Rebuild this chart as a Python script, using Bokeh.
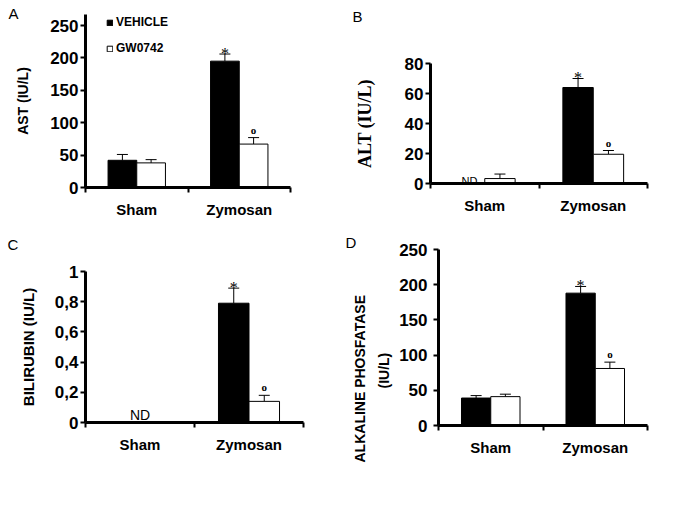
from bokeh.plotting import figure
from bokeh.models import (Range1d, FixedTicker, Whisker, TeeHead, ColumnDataSource,
                          Label, LabelSet, Legend, LegendItem, Title)
from bokeh.layouts import column, row
from bokeh.embed import file_html
from bokeh.resources import INLINE

# ---------------- data ----------------
groups = ["Sham", "Zymosan"]
series = ["VEHICLE", "GW0742"]

ast_vehicle = [42, 195]
ast_vehicle_err = [9, 11]
ast_gw = [38, 67]
ast_gw_err = [5, 10]

alt_vehicle = [None, 64]          # ND for Sham vehicle
alt_vehicle_err = [None, 6]
alt_gw = [3.3, 19.5]
alt_gw_err = [3, 2.5]

bili_vehicle = [None, 0.79]       # ND for Sham
bili_vehicle_err = [None, 0.10]
bili_gw = [None, 0.14]
bili_gw_err = [None, 0.04]

alp_vehicle = [39, 188]
alp_vehicle_err = [3.5, 9.5]
alp_gw = [41, 81]
alp_gw_err = [3.5, 9]

sig_vehicle = ["", "*"]
sig_gw = ["", "o"]

ast_ticks = [0, 50, 100, 150, 200, 250]
alt_ticks = [0, 20, 40, 60, 80]
bili_ticks = [0, 0.2, 0.4, 0.6, 0.8, 1]
bili_tick_labels = ["0", "0,2", "0,4", "0,6", "0,8", "1"]
alp_ticks = [0, 50, 100, 150, 200, 250]

FONT = "Liberation Sans"
SERIF = "Liberation Serif"
BAR_W = 0.28
OFF = 0.14


def panel(width, height, borders, yend, ticks, tick_labels, vals, letter, letter_pos,
          title=None, title_font=FONT, title_size="14px", title_standoff=16,
          legend=False, nd_size="11px", nd_offset=4, tick_standoff=2, spacer=None):
    L, R, T, B = borders
    p = figure(width=width, height=height, output_backend="svg", toolbar_location=None,
               x_range=Range1d(0, 2), y_range=Range1d(0, yend),
               min_border_left=L, min_border_right=R, min_border_top=T, min_border_bottom=B)
    if "frame_align" in p.properties():
        p.frame_align = False
    p.outline_line_color = None
    p.xgrid.visible = False
    p.ygrid.visible = False
    p.background_fill_color = "white"
    p.border_fill_color = "white"

    # panel letter as title (optionally lifted by an empty spacer title)
    if spacer is not None:
        p.add_layout(Title(text=" ", standoff=spacer, text_font=FONT,
                           text_font_size="15px"), "above")
    p.title.text = letter
    p.title.align = "left"
    p.title.offset = letter_pos[0]
    p.title.standoff = letter_pos[1]
    p.title.text_font = FONT
    p.title.text_font_style = "normal"
    p.title.text_font_size = "15px"
    p.title.text_color = "black"

    veh, veh_err, gw, gw_err = vals
    renderers = []
    for k, (v, e, fill) in enumerate([(veh, veh_err, "black"), (gw, gw_err, "white")]):
        xs, tops, ups = [], [], []
        for i, g in enumerate(groups):
            if v[i] is None:
                continue
            xs.append(i + 0.5 + (-OFF if k == 0 else OFF))
            tops.append(v[i])
            ups.append(v[i] + e[i])
        src = ColumnDataSource(dict(x=xs, top=tops, upper=ups))
        r = p.vbar(x="x", top="top", width=BAR_W, source=src, fill_color=fill,
                   line_color="black", line_width=1)
        renderers.append(r)
        w = Whisker(base="x", lower="top", upper="upper", source=src,
                    line_color="black", line_width=1, lower_head=None,
                    upper_head=TeeHead(size=11, line_color="black", line_width=1))
        p.add_layout(w)

    # significance markers
    for k, (v, e, sig, size, dy) in enumerate([(veh, veh_err, sig_vehicle, "16px", 1),
                                               (gw, gw_err, sig_gw, "11px", 8)]):
        xs, ys, ts = [], [], []
        for i in range(len(groups)):
            if v[i] is None or not sig[i]:
                continue
            xs.append(i + 0.5 + (-OFF if k == 0 else OFF))
            ys.append(v[i] + e[i])
            ts.append(sig[i])
        src = ColumnDataSource(dict(x=xs, y=ys, t=ts))
        p.add_layout(LabelSet(x="x", y="y", text="t", source=src, text_align="center",
                              text_baseline="middle", y_offset=dy, text_font=FONT,
                              text_font_size=size,
                              text_font_style="bold" if k == 1 else "normal",
                              text_color="black"))

    # ND labels
    for i in range(len(groups)):
        if veh[i] is None and gw[i] is None:
            p.add_layout(Label(x=i + 0.5, y=0, y_offset=nd_offset, text="ND",
                               text_align="center", text_baseline="alphabetic",
                               text_font=FONT, text_font_size=nd_size, text_color="black"))
        elif veh[i] is None:
            p.add_layout(Label(x=i + 0.5 - OFF, y=0, y_offset=nd_offset, text="ND",
                               text_align="center", text_baseline="alphabetic",
                               text_font=FONT, text_font_size=nd_size, text_color="black"))

    # axes
    ya = p.yaxis[0]
    ya.ticker = FixedTicker(ticks=ticks)
    if tick_labels:
        ya.major_label_overrides = {t: s for t, s in zip(ticks, tick_labels)}
    ya.axis_line_width = 3
    ya.axis_line_color = "black"
    ya.major_tick_line_width = 2
    ya.major_tick_line_color = "black"
    ya.major_tick_out = 5
    ya.major_tick_in = 0
    ya.minor_tick_line_color = None
    ya.major_label_standoff = tick_standoff
    ya.major_label_text_font = FONT
    ya.major_label_text_font_style = "bold"
    ya.major_label_text_font_size = "17px"
    ya.major_label_text_color = "black"
    if title:
        ya.axis_label = title
        ya.axis_label_text_font = title_font
        ya.axis_label_text_font_style = "bold"
        ya.axis_label_text_font_size = title_size
        ya.axis_label_standoff = title_standoff
        ya.axis_label_text_color = "black"

    xa = p.xaxis[0]
    xa.ticker = FixedTicker(ticks=[0.5, 1.5], minor_ticks=[0, 1, 2])
    xa.major_label_overrides = {0.5: groups[0], 1.5: groups[1]}
    xa.axis_line_width = 3
    xa.axis_line_color = "black"
    xa.major_tick_line_color = None
    xa.major_tick_out = 0
    xa.major_tick_in = 0
    xa.minor_tick_line_width = 2
    xa.minor_tick_line_color = "black"
    xa.minor_tick_out = 5
    xa.minor_tick_in = 0
    xa.major_label_standoff = 8
    xa.major_label_text_font = FONT
    xa.major_label_text_font_style = "bold"
    xa.major_label_text_font_size = "15px"
    xa.major_label_text_color = "black"

    if legend:
        lg = Legend(items=[LegendItem(label=series[0], renderers=[renderers[0]]),
                           LegendItem(label=series[1], renderers=[renderers[1]])],
                    location=(21, 132), glyph_width=7, glyph_height=7, label_height=13,
                    spacing=12, padding=0, margin=0, label_standoff=3,
                    border_line_color=None, background_fill_alpha=0,
                    label_text_font=FONT, label_text_font_style="bold",
                    label_text_font_size="12px", label_text_color="black")
        p.add_layout(lg)
    return p


# A: frame extended a little above the 250 tick so the legend fits inside it
pA = panel(345, 232, (85, 55, 14, 45), 267, ast_ticks, None,
           (ast_vehicle, ast_vehicle_err, ast_gw, ast_gw_err), "A", (-77, -14),
           title="AST (IU/L)", title_size="14px", title_standoff=16, legend=True)
pB = panel(339, 232, (85, 37, 63, 49), 80, alt_ticks, None,
           (alt_vehicle, alt_vehicle_err, alt_gw, alt_gw_err), "B", (-78, 0),
           title="ALT (IU/L)", title_font=SERIF, title_size="18px", title_standoff=27,
           nd_size="11px", nd_offset=3, spacer=20)
pC = panel(345, 280, (85, 42, 39, 90), 1, bili_ticks, bili_tick_labels,
           (bili_vehicle, bili_vehicle_err, bili_gw, bili_gw_err), "C", (-78, 0),
           title="BILIRUBIN (IU/L)", title_size="15px", title_standoff=15,
           nd_size="14px", nd_offset=8, spacer=0)
pD = panel(339, 280, (93, 37, 14, 87), 250, alp_ticks, None,
           (alp_vehicle, alp_vehicle_err, alp_gw, alp_gw_err), "D", (-93, -2),
           tick_standoff=6)
# two-line y title for panel D
pD.add_layout(Title(text="(IU/L)", align="left", offset=37, standoff=10,
                    text_font=FONT, text_font_style="bold", text_font_size="14px",
                    text_color="black"), "left")
pD.add_layout(Title(text="ALKALINE PHOSFATASE", align="left", offset=-37, standoff=2,
                    text_font=FONT, text_font_style="bold", text_font_size="14px",
                    text_color="black"), "left")

layout = column(row(pA, pB), row(pC, pD))
open("out.html", "w").write(file_html(layout, INLINE))
